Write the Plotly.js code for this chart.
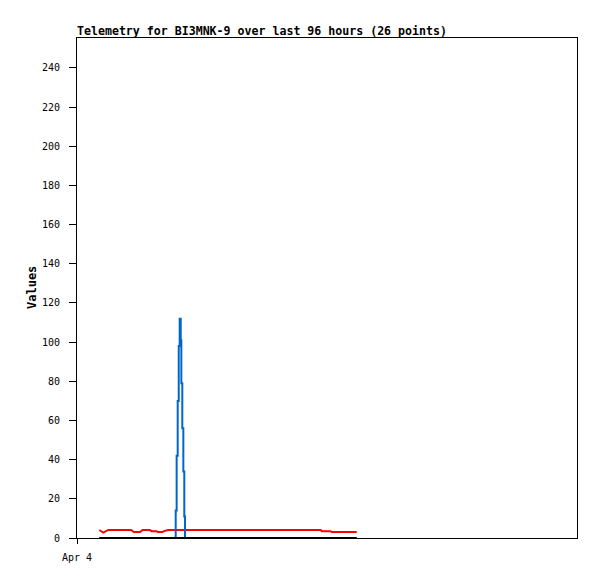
<!DOCTYPE html>
<html>
<head>
<meta charset="utf-8">
<script src="https://cdn.plot.ly/plotly-3.0.1.min.js"></script>
<style>html,body{margin:0;padding:0;background:#fff;}#chart{width:597px;height:579px;}</style>
</head>
<body>
<div id="chart"></div>
<script>
// Red series (times and values)
var redTimes = [
  '2024-04-04 04:17', '2024-04-04 05:03', '2024-04-04 06:01', '2024-04-04 10:22',
  '2024-04-04 10:56', '2024-04-04 12:06', '2024-04-04 12:36', '2024-04-04 14:00',
  '2024-04-04 14:18', '2024-04-04 15:18', '2024-04-04 15:30', '2024-04-04 16:24',
  '2024-04-04 16:42', '2024-04-04 17:30', '2024-04-05 22:48', '2024-04-05 23:00',
  '2024-04-06 00:42', '2024-04-06 00:54', '2024-04-06 05:42'
];
var redValues = [4.1, 2.8, 4.1, 4.1, 3.0, 3.0, 4.1, 4.1, 3.5, 3.5, 3.0, 3.0, 3.5, 4.1, 4.1, 3.5, 3.5, 3.0, 3.0];

// Blue series (times and values)
var blueTimes = [
  '2024-04-04 04:17', '2024-04-04 18:57', '2024-04-04 19:08', '2024-04-04 19:20',
  '2024-04-04 19:32', '2024-04-04 19:43', '2024-04-04 19:55', '2024-04-04 20:02',
  '2024-04-04 20:13', '2024-04-04 20:25', '2024-04-04 20:36', '2024-04-04 20:44',
  '2024-04-06 05:42'
];
var blueValues = [0, 14, 42, 70, 98, 112, 101, 79, 56, 34, 11, 0, 0];

// Black series (times and values)
var blackTimes = ['2024-04-04 04:17', '2024-04-06 05:42'];
var blackValues = [0, 0];

var xTickVals = ['2024-04-04'];
var xTickText = ['Apr 4'];
var yTickVals = [0, 20, 40, 60, 80, 100, 120, 140, 160, 180, 200, 220, 240];

var mono = 'DejaVu Sans Mono, monospace';

var traces = [
  {x: redTimes, y: redValues, type: 'scatter', mode: 'lines',
   line: {color: '#ff0000', width: 2}, hoverinfo: 'skip'},
  {x: blueTimes, y: blueValues, type: 'scatter', mode: 'lines',
   line: {color: '#0066cc', width: 2, shape: 'hv'}, hoverinfo: 'skip'},
  {x: blackTimes, y: blackValues, type: 'scatter', mode: 'lines',
   line: {color: '#000000', width: 2}, hoverinfo: 'skip'}
];

var layout = {
  width: 597, height: 579,
  margin: {l: 77, r: 20, t: 38, b: 41},
  paper_bgcolor: '#ffffff', plot_bgcolor: '#ffffff',
  showlegend: false,
  title: {text: '<b>Telemetry for BI3MNK-9 over last 96 hours (26 points)</b>',
    font: {family: mono, size: 11.6, color: '#000'},
    xref: 'paper', x: 0, xanchor: 'left',
    yref: 'container', y: 1 - 31/579, yanchor: 'middle'},
  xaxis: {type: 'date', range: ['2024-04-04 00:00', '2024-04-08 00:00'],
    tickmode: 'array', tickvals: xTickVals, ticktext: xTickText,
    ticks: 'outside', ticklen: 5, tickcolor: '#000', tickwidth: 1,
    ticklabelstandoff: 5,
    showline: true, linecolor: '#000', linewidth: 1, mirror: true,
    showgrid: false, zeroline: false,
    tickfont: {family: mono, size: 10, color: '#000'}},
  yaxis: {range: [0, 255.3], tickmode: 'array', tickvals: yTickVals,
    ticks: 'outside', ticklen: 7, tickcolor: '#000', tickwidth: 1,
    ticklabelstandoff: 7,
    showline: true, linecolor: '#000', linewidth: 1, mirror: true,
    showgrid: false, zeroline: false,
    tickfont: {family: mono, size: 10, color: '#000'}},
  annotations: [{text: '<b>Values</b>', xref: 'paper', yref: 'paper',
    x: -0.09, y: 0.5, xanchor: 'center', yanchor: 'middle', textangle: -90,
    showarrow: false, font: {family: mono, size: 12, color: '#000'}}]
};

Plotly.newPlot('chart', traces, layout, {displayModeBar: false, staticPlot: true});
</script>
</body>
</html>
